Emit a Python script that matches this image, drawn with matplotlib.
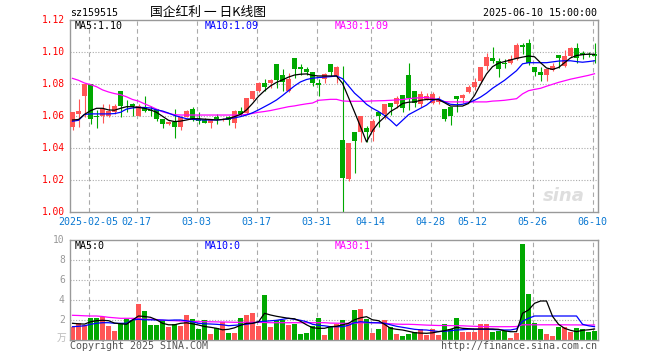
import matplotlib
matplotlib.use("Agg")
import matplotlib.pyplot as plt
import numpy as np

# ---------------- data ----------------
dates = ["01-23", "01-24", "01-27", "02-05", "02-06", "02-07",
         "02-10", "02-11", "02-12", "02-13", "02-14",
         "02-17", "02-18", "02-19", "02-20", "02-21",
         "02-24", "02-25", "02-26", "02-27", "02-28",
         "03-03", "03-04", "03-05", "03-06", "03-07",
         "03-10", "03-11", "03-12", "03-13", "03-14",
         "03-17", "03-18", "03-19", "03-20", "03-21",
         "03-24", "03-25", "03-26", "03-27", "03-28",
         "03-31", "04-01", "04-02", "04-03",
         "04-07", "04-08", "04-09", "04-10", "04-11",
         "04-14", "04-15", "04-16", "04-17", "04-18",
         "04-21", "04-22", "04-23", "04-24", "04-25",
         "04-28", "04-29", "04-30",
         "05-06", "05-07", "05-08", "05-09",
         "05-12", "05-13", "05-14", "05-15", "05-16",
         "05-19", "05-20", "05-21", "05-22", "05-23",
         "05-26", "05-27", "05-28", "05-29", "05-30",
         "06-03", "06-04", "06-05", "06-06",
         "06-09", "06-10"]

open_ = [1.0531, 1.0617, 1.0727, 1.0800, 1.0602, 1.0600, 1.0604, 1.0625, 1.0758, 1.0667,
         1.0677, 1.0604, 1.0658, 1.0640, 1.0644, 1.0583, 1.0550, 1.0567, 1.0531, 1.0598,
         1.0648, 1.0583, 1.0580, 1.0560, 1.0598, 1.0575, 1.0598, 1.0556, 1.0635, 1.0620,
         1.0706, 1.0758, 1.0810, 1.0810, 1.0927, 1.0860, 1.0760, 1.0965, 1.0910, 1.0896,
         1.0877, 1.0810, 1.0833, 1.0927, 1.0854, 1.0452, 1.0206, 1.0500, 1.0504, 1.0529,
         1.0504, 1.0629, 1.0615, 1.0685, 1.0677, 1.0733, 1.0858, 1.0758, 1.0675, 1.0710,
         1.0685, 1.0688, 1.0645, 1.0660, 1.0727, 1.0712, 1.0754, 1.0781, 1.0822, 1.0914,
         1.0964, 1.0947, 1.0931, 1.0931, 1.0956, 1.1047, 1.1056, 1.0910, 1.0879, 1.0858,
         1.0889, 1.0983, 1.0914, 1.0977, 1.1025, 1.0993, 1.0989, 1.0989]
high = [1.0628, 1.0706, 1.0800, 1.0800, 1.0640, 1.0680, 1.0680, 1.0680, 1.0758, 1.0700,
        1.0685, 1.0680, 1.0730, 1.0665, 1.0648, 1.0583, 1.0570, 1.0644, 1.0600, 1.0640,
        1.0660, 1.0625, 1.0590, 1.0585, 1.0617, 1.0590, 1.0605, 1.0640, 1.0658, 1.0717,
        1.0760, 1.0815, 1.0835, 1.0835, 1.0927, 1.0896, 1.0869, 1.0965, 1.0927, 1.0910,
        1.0877, 1.0835, 1.0868, 1.0927, 1.0915, 1.0915, 1.0435, 1.0500, 1.0602, 1.0540,
        1.0581, 1.0629, 1.0677, 1.0685, 1.0725, 1.0733, 1.0935, 1.0758, 1.0760, 1.0745,
        1.0750, 1.0725, 1.0645, 1.0660, 1.0727, 1.0742, 1.0795, 1.0837, 1.0910, 1.0998,
        1.1035, 1.0964, 1.0956, 1.0981, 1.1060, 1.1060, 1.1081, 1.0910, 1.0910, 1.0893,
        1.0931, 1.0983, 1.1014, 1.1035, 1.1060, 1.1010, 1.1004, 1.1060]
low = [1.0515, 1.0531, 1.0598, 1.0550, 1.0525, 1.0555, 1.0598, 1.0615, 1.0598, 1.0625,
       1.0605, 1.0600, 1.0625, 1.0600, 1.0570, 1.0530, 1.0548, 1.0462, 1.0515, 1.0595,
       1.0570, 1.0553, 1.0555, 1.0530, 1.0552, 1.0568, 1.0548, 1.0525, 1.0605, 1.0615,
       1.0700, 1.0752, 1.0760, 1.0775, 1.0775, 1.0760, 1.0752, 1.0838, 1.0860, 1.0860,
       1.0790, 1.0727, 1.0810, 1.0852, 1.0806, 1.0004, 1.0196, 1.0248, 1.0442, 1.0440,
       1.0448, 1.0535, 1.0585, 1.0608, 1.0650, 1.0630, 1.0640, 1.0660, 1.0660, 1.0700,
       1.0680, 1.0678, 1.0572, 1.0545, 1.0629, 1.0685, 1.0743, 1.0764, 1.0810, 1.0889,
       1.0935, 1.0843, 1.0900, 1.0925, 1.0952, 1.0989, 1.0920, 1.0852, 1.0822, 1.0822,
       1.0885, 1.0900, 1.0910, 1.0972, 1.0931, 1.0956, 1.0968, 1.0931]
close = [1.0625, 1.0635, 1.0800, 1.0583, 1.0598, 1.0648, 1.0635, 1.0667, 1.0665, 1.0662,
         1.0665, 1.0665, 1.0635, 1.0632, 1.0583, 1.0550, 1.0567, 1.0531, 1.0598, 1.0635,
         1.0583, 1.0570, 1.0560, 1.0583, 1.0583, 1.0580, 1.0577, 1.0635, 1.0615, 1.0715,
         1.0758, 1.0810, 1.0785, 1.0827, 1.0827, 1.0817, 1.0833, 1.0896, 1.0898, 1.0879,
         1.0810, 1.0798, 1.0865, 1.0877, 1.0910, 1.0217, 1.0435, 1.0446, 1.0602, 1.0504,
         1.0571, 1.0602, 1.0677, 1.0660, 1.0717, 1.0650, 1.0717, 1.0685, 1.0740, 1.0727,
         1.0739, 1.0700, 1.0583, 1.0602, 1.0708, 1.0733, 1.0785, 1.0816, 1.0910, 1.0968,
         1.0943, 1.0893, 1.0925, 1.0960, 1.1045, 1.1031, 1.0931, 1.0879, 1.0858, 1.0893,
         1.0914, 1.0962, 1.0977, 1.1025, 1.0962, 1.0981, 1.0981, 1.0977]

ma5 = [1.0577, 1.0580, 1.0612, 1.0635, 1.0650, 1.0650, 1.0640, 1.0638, 1.0650, 1.0660,
       1.0660, 1.0655, 1.0650, 1.0640, 1.0625, 1.0600, 1.0575, 1.0567, 1.0570, 1.0577,
       1.0585, 1.0585, 1.0582, 1.0580, 1.0577, 1.0580, 1.0585, 1.0598, 1.0612, 1.0640,
       1.0680, 1.0725, 1.0760, 1.0790, 1.0812, 1.0828, 1.0845, 1.0858, 1.0863, 1.0865,
       1.0856, 1.0852, 1.0852, 1.0852, 1.0852, 1.0806, 1.0717, 1.0627, 1.0535, 1.0440,
       1.0510, 1.0560, 1.0595, 1.0630, 1.0652, 1.0680, 1.0688, 1.0690, 1.0700, 1.0705,
       1.0706, 1.0704, 1.0685, 1.0664, 1.0664, 1.0664, 1.0680, 1.0730, 1.0800, 1.0865,
       1.0910, 1.0932, 1.0942, 1.0952, 1.0962, 1.0970, 1.0977, 1.0972, 1.0935, 1.0902,
       1.0893, 1.0905, 1.0935, 1.0965, 1.0980, 1.0985, 1.0989, 1.0987]
ma10 = [1.0569, 1.0575, 1.0612, 1.0615, 1.0615, 1.0615, 1.0615, 1.0617, 1.0625, 1.0645,
        1.0652, 1.0656, 1.0655, 1.0652, 1.0640, 1.0633, 1.0620, 1.0605, 1.0595, 1.0585,
        1.0581, 1.0578, 1.0577, 1.0577, 1.0577, 1.0580, 1.0585, 1.0590, 1.0598, 1.0608,
        1.0622, 1.0640, 1.0660, 1.0680, 1.0702, 1.0730, 1.0760, 1.0790, 1.0815, 1.0830,
        1.0838, 1.0842, 1.0845, 1.0848, 1.0852, 1.0835, 1.0790, 1.0745, 1.0712, 1.0675,
        1.0650, 1.0630, 1.0605, 1.0575, 1.0540, 1.0575, 1.0610, 1.0630, 1.0650, 1.0670,
        1.0700, 1.0710, 1.0690, 1.0675, 1.0672, 1.0675, 1.0685, 1.0700, 1.0720, 1.0745,
        1.0775, 1.0800, 1.0825, 1.0855, 1.0885, 1.0928, 1.0935, 1.0935, 1.0935, 1.0935,
        1.0940, 1.0945, 1.0947, 1.0947, 1.0942, 1.0938, 1.0942, 1.0947]
ma30 = [1.0837, 1.0825, 1.0808, 1.0798, 1.0785, 1.0765, 1.0752, 1.0742, 1.0735, 1.0722,
        1.0705, 1.0695, 1.0678, 1.0662, 1.0645, 1.0628, 1.0618, 1.0610, 1.0608, 1.0608,
        1.0608, 1.0608, 1.0608, 1.0608, 1.0608, 1.0608, 1.0608, 1.0608, 1.0608, 1.0612,
        1.0618, 1.0625, 1.0630, 1.0636, 1.0644, 1.0652, 1.0660, 1.0665, 1.0672, 1.0678,
        1.0683, 1.0700, 1.0703, 1.0706, 1.0706, 1.0696, 1.0694, 1.0694, 1.0694, 1.0694,
        1.0696, 1.0697, 1.0698, 1.0700, 1.0702, 1.0705, 1.0710, 1.0714, 1.0716, 1.0718,
        1.0712, 1.0702, 1.0692, 1.0690, 1.0690, 1.0690, 1.0690, 1.0690, 1.0690, 1.0690,
        1.0695, 1.0697, 1.0700, 1.0705, 1.0710, 1.0740, 1.0760, 1.0768, 1.0775, 1.0788,
        1.0800, 1.0812, 1.0822, 1.0832, 1.0840, 1.0848, 1.0856, 1.0866]

volume = [1.36, 1.70, 1.53, 2.26, 2.26, 2.30, 1.43, 0.96, 1.70, 2.13,
          2.03, 3.66, 2.96, 1.53, 1.53, 2.03, 1.36, 1.63, 1.43, 2.53,
          2.13, 1.13, 2.03, 0.63, 1.26, 1.80, 0.73, 0.73, 2.23, 2.53,
          2.73, 1.46, 4.56, 1.36, 2.03, 2.03, 1.56, 1.63, 0.66, 0.73,
          1.43, 2.23, 0.56, 1.36, 1.60, 2.03, 1.60, 3.03, 3.13, 2.10,
          0.73, 1.13, 2.03, 1.33, 0.63, 0.43, 0.63, 0.86, 1.16, 0.53,
          1.16, 0.53, 1.63, 1.13, 2.23, 0.86, 0.86, 0.86, 1.63, 1.63,
          0.86, 0.93, 0.93, 0.23, 0.73, 9.63, 4.63, 1.73, 1.13, 0.66,
          0.43, 1.36, 1.30, 0.86, 1.26, 1.13, 0.86, 0.96]
vma5 = [1.70, 1.65, 1.62, 1.85, 1.96, 2.00, 1.96, 1.72, 1.65, 1.60,
        2.03, 2.43, 2.38, 2.30, 2.05, 1.70, 1.55, 1.55, 1.70, 1.75,
        1.65, 1.53, 1.38, 1.30, 1.20, 1.05, 1.10, 1.25, 1.50, 1.70,
        1.70, 1.85, 2.70, 2.53, 2.40, 2.30, 2.20, 2.15, 1.90, 1.55,
        1.25, 1.20, 1.20, 1.36, 1.40, 1.55, 1.70, 2.05, 2.25, 2.36,
        2.05, 1.96, 1.60, 1.20, 1.10, 1.03, 0.90, 0.76, 0.72, 0.70,
        0.75, 0.86, 0.96, 1.10, 1.30, 1.20, 1.16, 1.13, 1.13, 1.13,
        1.13, 1.10, 0.95, 0.86, 0.86, 2.70, 3.03, 3.70, 3.93, 3.93,
        2.40, 1.60, 1.20, 1.00, 0.86, 1.00, 1.05, 1.13]
vma10 = [1.36, 1.40, 1.45, 1.60, 1.70, 1.76, 1.76, 1.70, 1.70, 1.70,
         2.05, 2.10, 2.05, 2.05, 2.03, 2.03, 2.00, 2.03, 2.03, 1.95,
         1.85, 1.70, 1.65, 1.63, 1.60, 1.55, 1.46, 1.50, 1.55, 1.60,
         1.70, 1.86, 1.90, 1.95, 2.00, 2.10, 2.20, 2.10, 2.00, 1.86,
         1.60, 1.50, 1.45, 1.36, 1.36, 1.36, 1.50, 1.76, 1.86, 1.80,
         1.76, 1.75, 1.70, 1.55, 1.40, 1.30, 1.20, 1.10, 1.05, 1.03,
         0.95, 0.88, 0.90, 0.96, 1.03, 1.06, 1.10, 1.10, 1.10, 1.10,
         1.08, 1.05, 1.03, 1.03, 1.15, 1.90, 2.20, 2.43, 2.43, 2.43,
         2.43, 2.43, 2.43, 2.43, 2.43, 1.60, 1.45, 1.36]
vma30 = [2.50, 2.48, 2.45, 2.43, 2.43, 2.38, 2.30, 2.25, 2.20, 2.20,
         2.20, 2.15, 2.10, 2.10, 2.08, 2.00, 1.98, 1.96, 1.93, 1.90,
         1.88, 1.86, 1.86, 1.85, 1.84, 1.83, 1.82, 1.80, 1.80, 1.80,
         1.80, 1.79, 1.78, 1.76, 1.76, 1.76, 1.76, 1.76, 1.76, 1.76,
         1.76, 1.76, 1.76, 1.72, 1.71, 1.70, 1.70, 1.72, 1.74, 1.76,
         1.76, 1.75, 1.70, 1.65, 1.62, 1.60, 1.60, 1.58, 1.55, 1.52,
         1.50, 1.48, 1.48, 1.47, 1.46, 1.45, 1.42, 1.40, 1.38, 1.37,
         1.36, 1.36, 1.36, 1.36, 1.38, 1.55, 1.55, 1.55, 1.55, 1.55,
         1.55, 1.55, 1.55, 1.54, 1.54, 1.53, 1.53, 1.53]

label_dates = ["02-05", "02-17", "03-03", "03-17", "03-31", "04-14",
               "04-28", "05-12", "05-26", "06-10"]
price_ticks = [1.12, 1.10, 1.08, 1.06, 1.04, 1.02, 1.00]
vol_ticks = [10, 8, 6, 4, 2]

# ---------------- style ----------------
W, H = 660, 360
RED = "#ff5555"
GREEN = "#00a800"
GRID = "#aaaaaa"
FRAME = "#999999"
XLAB = "#0a78d2"
MONO = "DejaVu Sans Mono"
CJK = ["Noto Sans CJK SC", "DejaVu Sans"]

fig = plt.figure(figsize=(W / 100, H / 100), dpi=100)
fig.patch.set_facecolor("white")


def fx(px):
    return px / W


def fy(py):
    return 1 - py / H


x = np.arange(len(dates))
o = np.array(open_); c = np.array(close)
hi = np.array(high); lo = np.array(low)
up = c >= o
colors = np.where(up, RED, GREEN)

ax = fig.add_axes([fx(70), fy(212.3), fx(598) - fx(70), (212.3 - 20.3) / H])
axv = fig.add_axes([fx(70), fy(340.3), fx(598) - fx(70), (340.3 - 240.3) / H])

XL = (-0.42, len(dates) - 0.42)
grid_pos = [dates.index(d) - 0.3 for d in label_dates]

for a in (ax, axv):
    a.set_xlim(*XL)
    a.set_xticks([])
    a.set_yticks([])
    for s in a.spines.values():
        s.set_color(FRAME)
        s.set_linewidth(1.0)
    for gp in grid_pos:
        a.axvline(gp, color=GRID, lw=0.8, ls=(0, (4, 3)), zorder=0.5)

# main price panel
ax.set_ylim(1.00, 1.12)
for t in [1.02, 1.04, 1.06, 1.08, 1.10]:
    ax.axhline(t, color=GRID, lw=0.8, ls=(0, (1, 1.5)), zorder=0.5)

ax.vlines(x, lo, hi, colors=colors, lw=0.8, zorder=2)
body_h = np.maximum(np.abs(c - o), 0.00035)
ax.bar(x, body_h, bottom=np.minimum(o, c), width=0.8, color=colors,
       edgecolor=colors, lw=0, zorder=3)

ax.plot(x, ma30, color="#ff00ff", lw=0.9, zorder=4)
ax.plot(x, ma10, color="#0000ff", lw=0.9, zorder=4)
ax.plot(x, ma5, color="black", lw=0.9, zorder=5)

# sina watermark
ax.text(0.975, 0.04, "sina", transform=ax.transAxes, ha="right", va="bottom",
        fontsize=13, fontstyle="italic", fontweight="bold", color="#dedede",
        family="DejaVu Sans", zorder=1)

# volume panel
axv.set_ylim(0, 10)
for t in [2, 4, 6, 8]:
    axv.axhline(t, color=GRID, lw=0.8, ls=(0, (1, 1.5)), zorder=0.5)
axv.bar(x, volume, width=0.8, color=colors, lw=0, zorder=2)
axv.plot(x, vma30, color="#ff00ff", lw=0.9, zorder=4)
axv.plot(x, vma10, color="#0000ff", lw=0.9, zorder=4)
axv.plot(x, vma5, color="black", lw=0.9, zorder=5)

# ---------------- texts ----------------
fig.text(fx(70), fy(13), "sz159515", family=MONO, fontsize=7.2,
         ha="left", va="center")
fig.text(fx(150), fy(12.5), "国企红利 一 日K线图", family=CJK, fontsize=9.2,
         ha="left", va="center")
fig.text(fx(597), fy(13), "2025-06-10 15:00:00", family=MONO, fontsize=7.2,
         ha="right", va="center")

ma_x = [74.5, 204.5, 334.7]
ma_c = ["black", "#0000ff", "#ff00ff"]
for xx, col, s in zip(ma_x, ma_c, ["MA5:1.10", "MA10:1.09", "MA30:1.09"]):
    fig.text(fx(xx), fy(26), s, family=MONO, fontsize=7.2, color=col,
             ha="left", va="center")
for xx, col, s in zip(ma_x, ma_c, ["MA5:0", "MA10:0", "MA30:1"]):
    fig.text(fx(xx), fy(246), s, family=MONO, fontsize=7.2, color=col,
             ha="left", va="center")

for t in price_ticks:
    ax.text(-0.01, (t - 1.00) / 0.12, f"{t:.2f}", transform=ax.transAxes,
            family=MONO, fontsize=6.9, color="red", ha="right", va="center")
for t in vol_ticks:
    axv.text(-0.01, t / 10, f"{t}", transform=axv.transAxes,
             family=MONO, fontsize=6.9, color="#999999", ha="right", va="center")
fig.text(fx(66), fy(338), "万", family=CJK, fontsize=7, color="#bbbbbb",
         ha="right", va="center")

for d, gp in zip(label_dates, grid_pos):
    lab = "2025-" + d if d == label_dates[0] else d
    ax.text(gp, -0.05, lab, transform=ax.get_xaxis_transform(), family=MONO,
            fontsize=7.2, color=XLAB, ha="center", va="center")

fig.text(fx(70), fy(346), "Copyright 2025 SINA.COM", family=MONO, fontsize=7.2,
         color="#555555", ha="left", va="center")
fig.text(fx(597), fy(346), "http://finance.sina.com.cn", family=MONO,
         fontsize=7.2, color="#555555", ha="right", va="center")

fig.savefig("out.png", dpi=100, facecolor="white")
